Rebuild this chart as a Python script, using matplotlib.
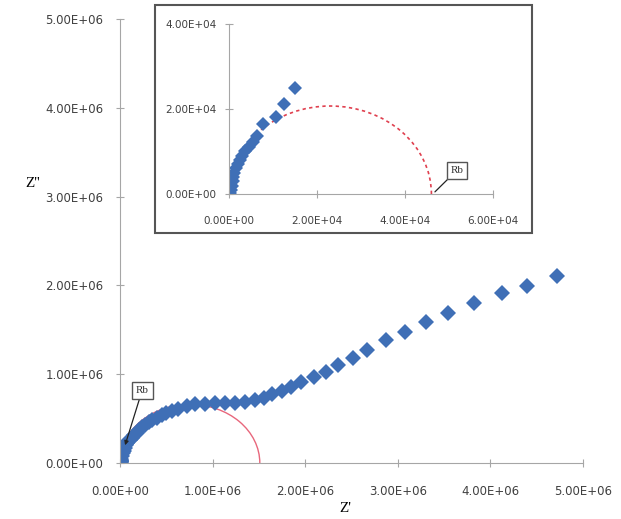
import matplotlib.pyplot as plt
from matplotlib.patches import Arc, Rectangle
from matplotlib.ticker import FuncFormatter

# Nyquist data, main view (Z', Z'' in ohm)
z_re = [0.005e6, 0.01e6, 0.015e6, 0.02e6, 0.03e6, 0.04e6, 0.05e6, 0.06e6, 0.075e6,
        0.09e6, 0.11e6, 0.13e6, 0.155e6, 0.18e6, 0.21e6, 0.24e6, 0.27e6, 0.31e6,
        0.35e6, 0.4e6, 0.45e6, 0.5e6, 0.56e6, 0.63e6, 0.72e6, 0.81e6, 0.92e6, 1.03e6,
        1.13e6, 1.24e6, 1.35e6, 1.46e6, 1.55e6, 1.64e6, 1.75e6, 1.85e6, 1.96e6,
        2.09e6, 2.22e6, 2.35e6, 2.52e6, 2.67e6, 2.87e6, 3.08e6, 3.31e6, 3.54e6,
        3.82e6, 4.13e6, 4.40e6, 4.715e6]
z_im = [0.01e6, 0.03e6, 0.05e6, 0.08e6, 0.11e6, 0.14e6, 0.17e6, 0.20e6, 0.23e6,
        0.245e6, 0.26e6, 0.28e6, 0.31e6, 0.34e6, 0.37e6, 0.40e6, 0.43e6, 0.46e6,
        0.48e6, 0.51e6, 0.54e6, 0.56e6, 0.59e6, 0.61e6, 0.64e6, 0.66e6, 0.67e6, 0.672e6,
        0.672e6, 0.68e6, 0.69e6, 0.71e6, 0.735e6, 0.774e6, 0.81e6, 0.86e6, 0.909e6,
        0.965e6, 1.02e6, 1.10e6, 1.18e6, 1.27e6, 1.38e6, 1.48e6, 1.59e6, 1.69e6,
        1.80e6, 1.91e6, 1.99e6, 2.109e6]

# high-frequency part shown in the inset
zi_re = [0.03e4, 0.05e4, 0.06e4, 0.08e4, 0.1e4, 0.12e4, 0.15e4, 0.2e4, 0.25e4, 0.3e4,
         0.37e4, 0.45e4, 0.55e4, 0.63e4, 0.78e4, 1.06e4, 1.26e4, 1.5e4]
zi_im = [0.02e4, 0.1e4, 0.2e4, 0.3e4, 0.4e4, 0.5e4, 0.6e4, 0.7e4, 0.8e4, 0.9e4,
         1.0e4, 1.1e4, 1.22e4, 1.37e4, 1.65e4, 1.82e4, 2.12e4, 2.49e4]

# fitted arcs (Rb = right intercept)
rb_main, arc_h_main = 1.51e6, 0.66e6
rb_inset, arc_h_inset = 4.6e4, 2.07e4

blue = '#3f6fb6'
grey = '#a6a6a6'
sci = FuncFormatter(lambda v, p: f'{v:.2E}')

fig = plt.figure(figsize=(6.21, 5.19), dpi=100)

# main plot
ax = fig.add_axes([0.1932, 0.1079, 0.7456, 0.8555])
ax.add_patch(Arc((rb_main / 2, 0), rb_main, 2 * arc_h_main, theta1=0, theta2=180,
                 color='#e8677c', lw=1, zorder=1))
ax.plot(zi_re + z_re, zi_im + z_im, 'D', color=blue, ms=8, mew=0, zorder=2)
ax.set_xlim(0, 5e6)
ax.set_ylim(0, 5e6)
ax.set_xticks([0, 1e6, 2e6, 3e6, 4e6, 5e6])
ax.set_yticks([0, 1e6, 2e6, 3e6, 4e6, 5e6])
ax.xaxis.set_major_formatter(sci)
ax.yaxis.set_major_formatter(sci)
ax.tick_params(axis='x', pad=13)
ax.tick_params(axis='y', pad=9)
ax.annotate('Rb', xy=(0.055e6, 0.2e6), xytext=(0.24e6, 0.82e6), ha='center', va='center',
            fontsize=8, family='Liberation Serif', color='#333333',
            bbox=dict(boxstyle='square,pad=0.35', fc='white', ec='#555555', lw=1),
            arrowprops=dict(arrowstyle='-|>', color='#222222', lw=0.9,
                            mutation_scale=6, shrinkA=0, shrinkB=0), zorder=5)

# inset frame
fig.add_artist(Rectangle((0.2496, 0.551), 0.6071, 0.4393, transform=fig.transFigure,
                         fc='white', ec='#555555', lw=1.5, zorder=3))

# inset
axi = fig.add_axes([0.3688, 0.6262, 0.4251, 0.3276], zorder=4)
axi.patch.set_alpha(0)
axi.add_patch(Arc((rb_inset / 2, 0), rb_inset, 2 * arc_h_inset, theta1=0, theta2=180,
                  color='#e0404f', lw=1.2, ls=(0, (2, 2)), zorder=1))
axi.plot(zi_re, zi_im, 'D', color=blue, ms=7, mew=0, zorder=2)
axi.set_xlim(0, 6e4)
axi.set_ylim(0, 4e4)
axi.set_xticks([0, 2e4, 4e4, 6e4])
axi.set_yticks([0, 2e4, 4e4])
axi.xaxis.set_major_formatter(sci)
axi.yaxis.set_major_formatter(sci)
axi.tick_params(axis='x', pad=13, labelsize=7.5)
axi.tick_params(axis='y', pad=6, labelsize=7.5)
axi.annotate('Rb', xy=(4.68e4, 0.05e4), xytext=(5.18e4, 0.56e4), ha='center', va='center',
             fontsize=8, family='Liberation Serif', color='#333333',
             bbox=dict(boxstyle='square,pad=0.35', fc='white', ec='#555555', lw=1),
             arrowprops=dict(arrowstyle='-', color='#222222', lw=0.9,
                             shrinkA=0, shrinkB=0), zorder=5)

for a in (ax, axi):
    for s in ('top', 'right'):
        a.spines[s].set_visible(False)
    for s in ('left', 'bottom'):
        a.spines[s].set_color(grey)
    a.tick_params(direction='inout', length=6, width=0.8, color=grey, labelcolor='#404040')
ax.tick_params(labelsize=8.5)

fig.text(0.053, 0.647, "Z''", fontsize=11, family='Liberation Serif', ha='center', va='center')
fig.text(0.556, 0.021, "Z'", fontsize=11, family='Liberation Serif', ha='center', va='center')

fig.savefig('out.png', dpi=100)
